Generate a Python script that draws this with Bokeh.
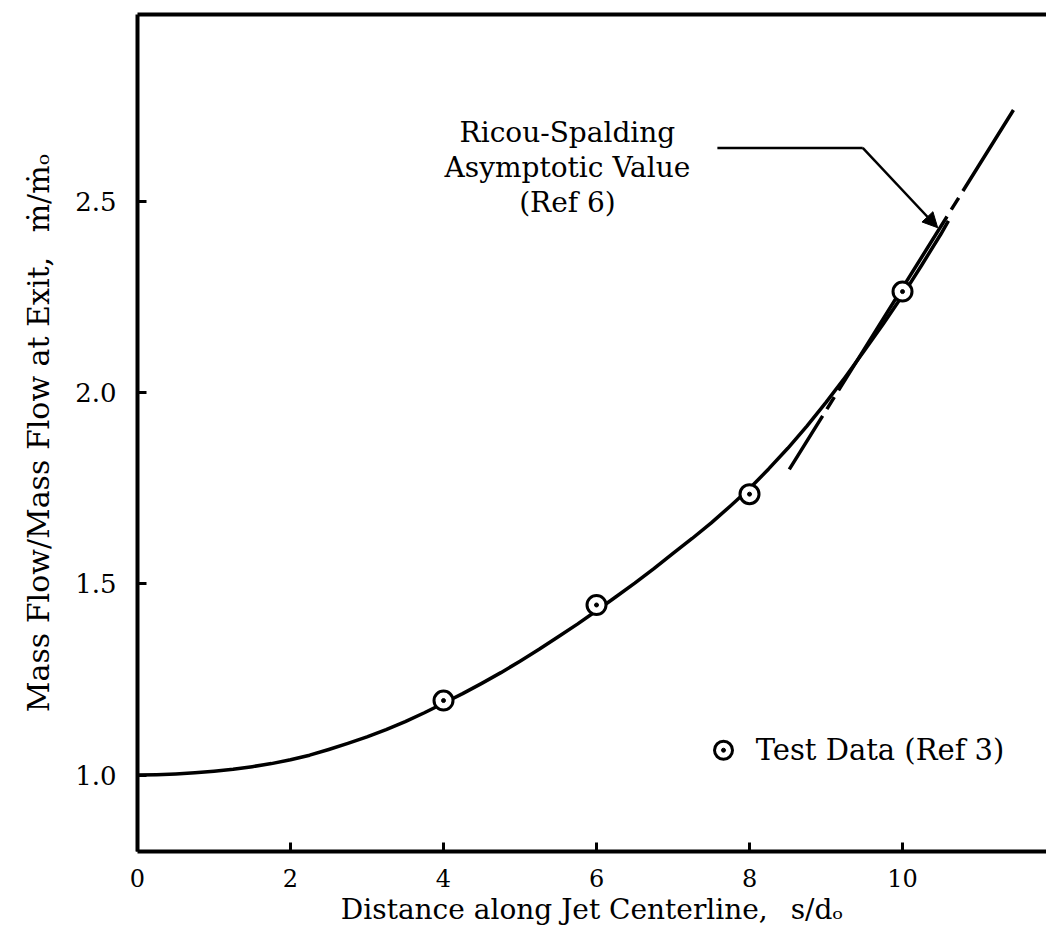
from bokeh.plotting import figure
from bokeh.models import (Range1d, FixedTicker, LinearAxis, Title, Arrow,
                          NormalHead, Label, CustomJSTickFormatter)
from bokeh.embed import file_html
from bokeh.resources import INLINE

# ---- data ----
curve_x = [0, 0.25, 0.5, 0.75, 1, 1.25, 1.5, 1.75, 2, 2.25, 2.5, 2.75, 3,
           3.25, 3.5, 3.75, 4, 4.25, 4.5, 4.75, 5, 5.25, 5.5, 5.75, 6,
           6.25, 6.5, 6.75, 7, 7.25, 7.5, 7.75, 8, 8.25, 8.5, 8.75, 9,
           9.25, 9.5, 9.75, 10, 10.25, 10.5, 10.6]
curve_y = [1.000, 1.001, 1.003, 1.006, 1.010, 1.015, 1.022, 1.030, 1.040,
           1.052, 1.067, 1.083, 1.100, 1.119, 1.140, 1.163, 1.188, 1.213,
           1.240, 1.268, 1.298, 1.329, 1.362, 1.395, 1.430, 1.466, 1.502,
           1.540, 1.580, 1.619, 1.660, 1.704, 1.750, 1.801, 1.855, 1.913,
           1.975, 2.041, 2.110, 2.181, 2.255, 2.334, 2.415, 2.450]

test_x = [4, 6, 8, 10]
test_y = [1.195, 1.445, 1.735, 2.265]

asym_x = [8.52, 11.45]
asym_y = [1.80, 2.74]

x_ticks = [0, 2, 4, 6, 8, 10]
y_ticks = [1.0, 1.5, 2.0, 2.5]

FONT = "DejaVu Serif"

p = figure(width=1046, height=936, x_range=Range1d(0, 11.882),
           y_range=Range1d(0.8, 2.99), output_backend="svg",
           toolbar_location=None, min_border_left=137, min_border_right=0,
           min_border_top=14, min_border_bottom=85)
p.outline_line_color = None
p.xgrid.visible = False
p.ygrid.visible = False
p.background_fill_color = "white"

# axes
xa = p.xaxis[0]
xa.ticker = FixedTicker(ticks=x_ticks)
xa.axis_line_width = 4
xa.major_tick_in = 9
xa.major_tick_out = 0
xa.major_tick_line_width = 3
xa.minor_tick_in = 0
xa.minor_tick_out = 0
xa.major_label_standoff = 17
xa.major_label_text_font = FONT
xa.major_label_text_font_size = "24px"
xa.major_label_text_color = "black"

ya = p.yaxis[0]
ya.ticker = FixedTicker(ticks=y_ticks)
ya.formatter = CustomJSTickFormatter(code="return tick.toFixed(1);")
ya.axis_line_width = 4
ya.major_tick_in = 9
ya.major_tick_out = 0
ya.major_tick_line_width = 3
ya.minor_tick_in = 0
ya.minor_tick_out = 0
ya.major_label_standoff = 21
ya.major_label_text_font = FONT
ya.major_label_text_font_size = "26px"
ya.major_label_text_color = "black"

top = LinearAxis(ticker=FixedTicker(ticks=[]), axis_line_width=4,
                 major_tick_in=0, major_tick_out=0, minor_tick_in=0,
                 minor_tick_out=0, major_label_standoff=0,
                 major_label_text_font_size="0px")
p.add_layout(top, "above")

ytitle = Title(text="Mass Flow/Mass Flow at Exit, \u2002\u1e41/\u1e41\u2092",
               align="center", standoff=34, text_font=FONT,
               text_font_size="30px", text_font_style="normal",
               text_color="black")
p.add_layout(ytitle, "left")

xtitle = Title(text="Distance along Jet Centerline, \u2002s/d\u2092",
               align="center", standoff=2, text_font=FONT,
               text_font_size="28px", text_font_style="normal",
               text_color="black")
p.add_layout(xtitle, "below")

# curve and asymptote
p.line(curve_x, curve_y, line_color="black", line_width=3.5,
       line_join="round")
p.line(asym_x, asym_y, line_color="black", line_width=3.5,
       line_dash="63 8 14 8 205 8 14 8 200 8")

# test data
p.scatter(test_x, test_y, size=19, marker="circle", fill_color="white",
          line_color="black", line_width=3)
p.scatter(test_x, test_y, size=4, marker="circle", fill_color="black",
          line_color="black")

# legend
p.scatter([7.66], [1.065], size=18, marker="circle", fill_color="white",
          line_color="black", line_width=3)
p.scatter([7.66], [1.065], size=4, marker="circle", fill_color="black",
          line_color="black")
p.add_layout(Label(x=8.08, y=1.065, text="Test Data (Ref 3)",
                   text_font=FONT, text_font_size="29px",
                   text_baseline="middle", text_align="left",
                   text_color="black"))

# annotation
for txt, yy in [("Ricou-Spalding", 2.681), ("Asymptotic Value", 2.589),
                ("(Ref 6)", 2.497)]:
    p.add_layout(Label(x=5.62, y=yy, text=txt, text_font=FONT,
                       text_font_size="28px", text_baseline="middle",
                       text_align="center", text_color="black"))

p.line([7.58, 9.48], [2.641, 2.641], line_color="black", line_width=2.5)
p.add_layout(Arrow(x_start=9.48, y_start=2.641, x_end=10.46, y_end=2.432,
                   line_width=2.5, line_color="black",
                   end=NormalHead(size=15, fill_color="black",
                                  line_color="black")))

open("out.html", "w").write(file_html(p, INLINE))
